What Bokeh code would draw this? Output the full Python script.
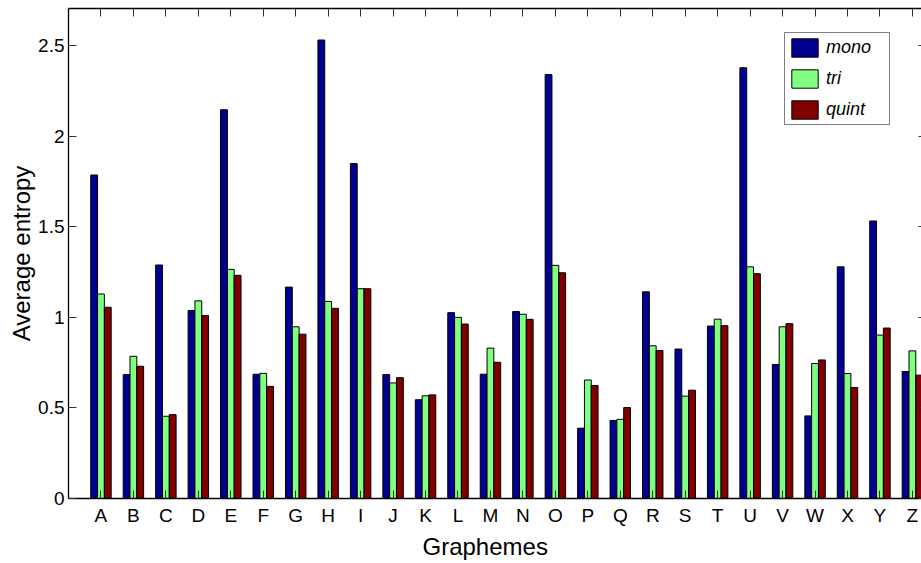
from bokeh.plotting import figure
from bokeh.models import (Range1d, LinearAxis, FixedTicker, Legend, LegendItem, Title,
                          ColumnDataSource, NumeralTickFormatter, CustomLabelingPolicy)
from bokeh.transform import dodge
from bokeh.embed import file_html
from bokeh.resources import INLINE

graphemes = list("ABCDEFGHIJKLMNOPQRSTUVWXYZ")
mono = [1.786, 0.684, 1.289, 1.038, 2.146, 0.686, 1.167, 2.531, 1.849, 0.684, 0.545, 1.026, 0.686,
        1.032, 2.340, 0.388, 0.431, 1.141, 0.825, 0.952, 2.378, 0.740, 0.456, 1.279, 1.532, 0.701]
tri = [1.129, 0.785, 0.454, 1.091, 1.265, 0.691, 0.948, 1.088, 1.158, 0.638, 0.567, 1.000, 0.830,
       1.017, 1.287, 0.654, 0.437, 0.843, 0.565, 0.990, 1.279, 0.948, 0.745, 0.690, 0.902, 0.815]
quint = [1.056, 0.730, 0.463, 1.010, 1.232, 0.619, 0.907, 1.050, 1.158, 0.667, 0.572, 0.963, 0.752,
         0.989, 1.246, 0.624, 0.502, 0.817, 0.598, 0.954, 1.241, 0.965, 0.765, 0.613, 0.941, 0.681]
series_names = ["mono", "tri", "quint"]
series_colors = ["#000090", "#80FF80", "#800000"]
y_ticks = [0, 0.5, 1, 1.5, 2, 2.5]

FONT = "Liberation Sans"
pos = list(range(1, len(graphemes) + 1))
src = ColumnDataSource(dict(x=pos, mono=mono, tri=tri, quint=quint))

p = figure(width=921, height=563, output_backend="svg", toolbar_location=None,
           x_range=Range1d(0, 26.28), y_range=Range1d(0, 2.705),
           min_border_left=68, min_border_top=8, min_border_right=0, min_border_bottom=65,
           y_axis_label="Average entropy")
p.outline_line_color = None
p.grid.visible = False
p.background_fill_color = "white"
p.border_fill_color = "white"

offsets = [-0.21, 0.0, 0.21]
renderers = []
for name, col, off in zip(series_names, series_colors, offsets):
    r = p.vbar(x=dodge("x", off, range=p.x_range), top=name, width=0.21, bottom=0,
               source=src, fill_color=col, line_color="black", line_width=1)
    renderers.append(r)

xt = FixedTicker(ticks=pos)
yt = FixedTicker(ticks=y_ticks)

xa = p.xaxis[0]
xa.ticker = xt
xa.major_label_overrides = {i: g for i, g in zip(pos, graphemes)}
ya = p.yaxis[0]
ya.ticker = yt
ya.formatter = NumeralTickFormatter(format="0.[0]")

for ax in (xa, ya):
    ax.major_tick_in = 8
    ax.major_tick_out = 0
    ax.minor_tick_line_color = None
    ax.axis_line_color = "black"
    ax.axis_line_width = 1.3
    ax.major_tick_line_color = "#333333"
    ax.major_label_text_font = FONT
    ax.major_label_text_font_size = "19px"
    ax.major_label_text_color = "black"
    ax.axis_label_text_font = FONT
    ax.axis_label_text_font_size = "24px"
    ax.axis_label_text_font_style = "normal"
    ax.axis_label_text_color = "black"

xa.major_label_standoff = 6
ya.major_label_standoff = 4
ya.axis_label_standoff = 0

no_labels = CustomLabelingPolicy(code="for (const i of Array.from(indices)) indices.unset(i); return indices")
top = LinearAxis(ticker=xt, major_tick_in=8, major_tick_out=0, minor_tick_line_color=None,
                 major_label_policy=no_labels, major_label_standoff=0, major_label_text_font_size="0px",
                 axis_line_color="black", axis_line_width=1.3, major_tick_line_color="#333333")
p.add_layout(top, "above")
right = LinearAxis(ticker=yt, major_tick_in=3, major_tick_out=0, minor_tick_line_color=None,
                   major_label_policy=no_labels, major_label_standoff=0, major_label_text_font_size="0px",
                   axis_line_color=None, major_tick_line_color="#333333")
p.add_layout(right, "right")

xlabel = Title(text="Graphemes", align="left", offset=354, text_font=FONT, text_font_size="24px",
               text_font_style="normal", text_color="black", standoff=4)
p.add_layout(xlabel, "below")

legend = Legend(items=[LegendItem(label=n, renderers=[r]) for n, r in zip(series_names, renderers)],
                location=(716, 373), glyph_width=33, glyph_height=23, spacing=8, padding=3,
                margin=0, label_standoff=5, label_width=60,
                label_text_font=FONT, label_text_font_size="18px", label_text_font_style="italic",
                label_text_color="black", border_line_color="black", border_line_width=1,
                background_fill_color="white", background_fill_alpha=1)
p.add_layout(legend, "center")

open("out.html", "w").write(file_html(p, INLINE))
